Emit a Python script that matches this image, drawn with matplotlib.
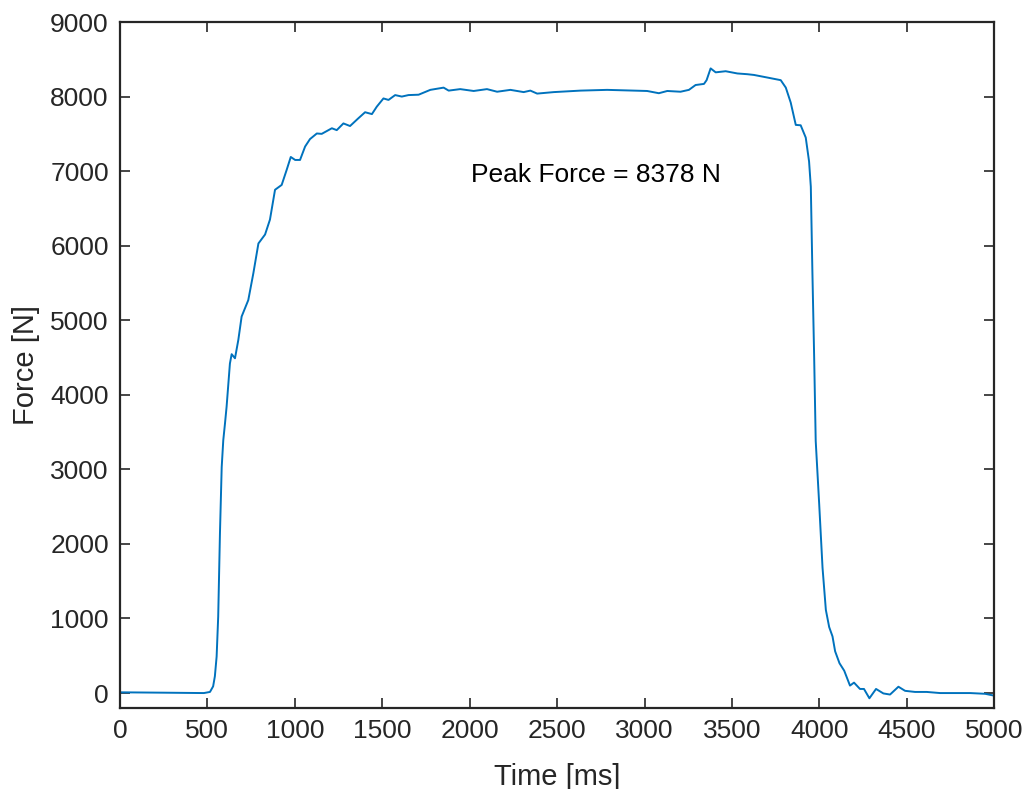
import matplotlib
matplotlib.use("Agg")
import matplotlib.pyplot as plt

# force trace
time_ms = [0, 250, 480, 515, 533, 543, 553, 562, 572, 582, 591, 601, 610, 629, 639,
           658, 677, 696, 734, 763, 792, 830, 858, 887, 925, 954, 977, 1002, 1030,
           1059, 1087, 1126, 1154, 1212, 1240, 1278, 1316, 1364, 1402, 1441, 1469,
           1507, 1536, 1574, 1612, 1650, 1708, 1775, 1851, 1880, 1946, 2023, 2099,
           2157, 2233, 2309, 2347, 2386, 2481, 2634, 2786, 2939, 3015, 3082, 3130,
           3206, 3254, 3292, 3340, 3355, 3378, 3407, 3464, 3531, 3588, 3626, 3703,
           3779, 3808, 3836, 3865, 3893, 3922, 3941, 3951, 3960, 3970, 3979, 3999,
           4018, 4037, 4056, 4075,
           4090, 4115, 4142, 4175, 4198, 4232, 4255, 4286, 4324, 4366, 4404, 4452,
           4490, 4547, 4614, 4690, 4862, 4948, 5000]
force_n = [10, 5, 0, 15, 90, 225, 490, 1025, 2140, 3030, 3390, 3620, 3840, 4420, 4545,
           4490, 4735, 5050, 5270, 5630, 6030, 6150, 6350, 6750, 6815, 7020, 7190, 7150, 7150,
           7330, 7430, 7505, 7500, 7575, 7550, 7640, 7605, 7710, 7790, 7765, 7865,
           7975, 7955, 8020, 8000, 8020, 8025, 8090, 8120, 8080, 8100, 8075, 8100,
           8065, 8090, 8060, 8080, 8040, 8060, 8080, 8090, 8080, 8075, 8045, 8075,
           8065, 8090, 8155, 8170, 8220, 8378, 8325, 8340, 8310, 8300, 8290, 8255,
           8220, 8120, 7920, 7620, 7615, 7450, 7130, 6790, 5650, 4520, 3380, 2530,
           1680, 1115, 885, 760,
           560, 400, 300, 100, 140, 55, 55, -70, 55, -5, -20, 85,
           30, 15, 15, 0, 0, -10, -35]

peak_label = "Peak Force = 8378 N"

plt.rcParams['font.family'] = ['Liberation Sans', 'DejaVu Sans']

fig = plt.figure(figsize=(10.25, 7.89), dpi=100)
ax = fig.add_axes([0.117, 0.1027, 0.853, 0.8694])

ax.plot(time_ms, force_n, color='#0072BD', linewidth=1.4)
ax.text(2725, 6950, peak_label, fontsize=19, ha='center', va='center', color='black')

ax.set_xlim(0, 5000)
ax.set_ylim(-200, 9000)
ax.set_xticks(range(0, 5001, 500))
ax.set_yticks(range(0, 9001, 1000))
ax.set_xlabel("Time [ms]", fontsize=21, labelpad=14, color='#262626')
ax.set_ylabel("Force [N]", fontsize=21, labelpad=7, color='#262626')

ax.tick_params(direction='in', length=7, width=1.2, colors='#262626',
               labelsize=19, top=True, right=True, pad=8)
for s in ax.spines.values():
    s.set_linewidth(1.6)
    s.set_color('#262626')

fig.savefig("out.png", dpi=100)
